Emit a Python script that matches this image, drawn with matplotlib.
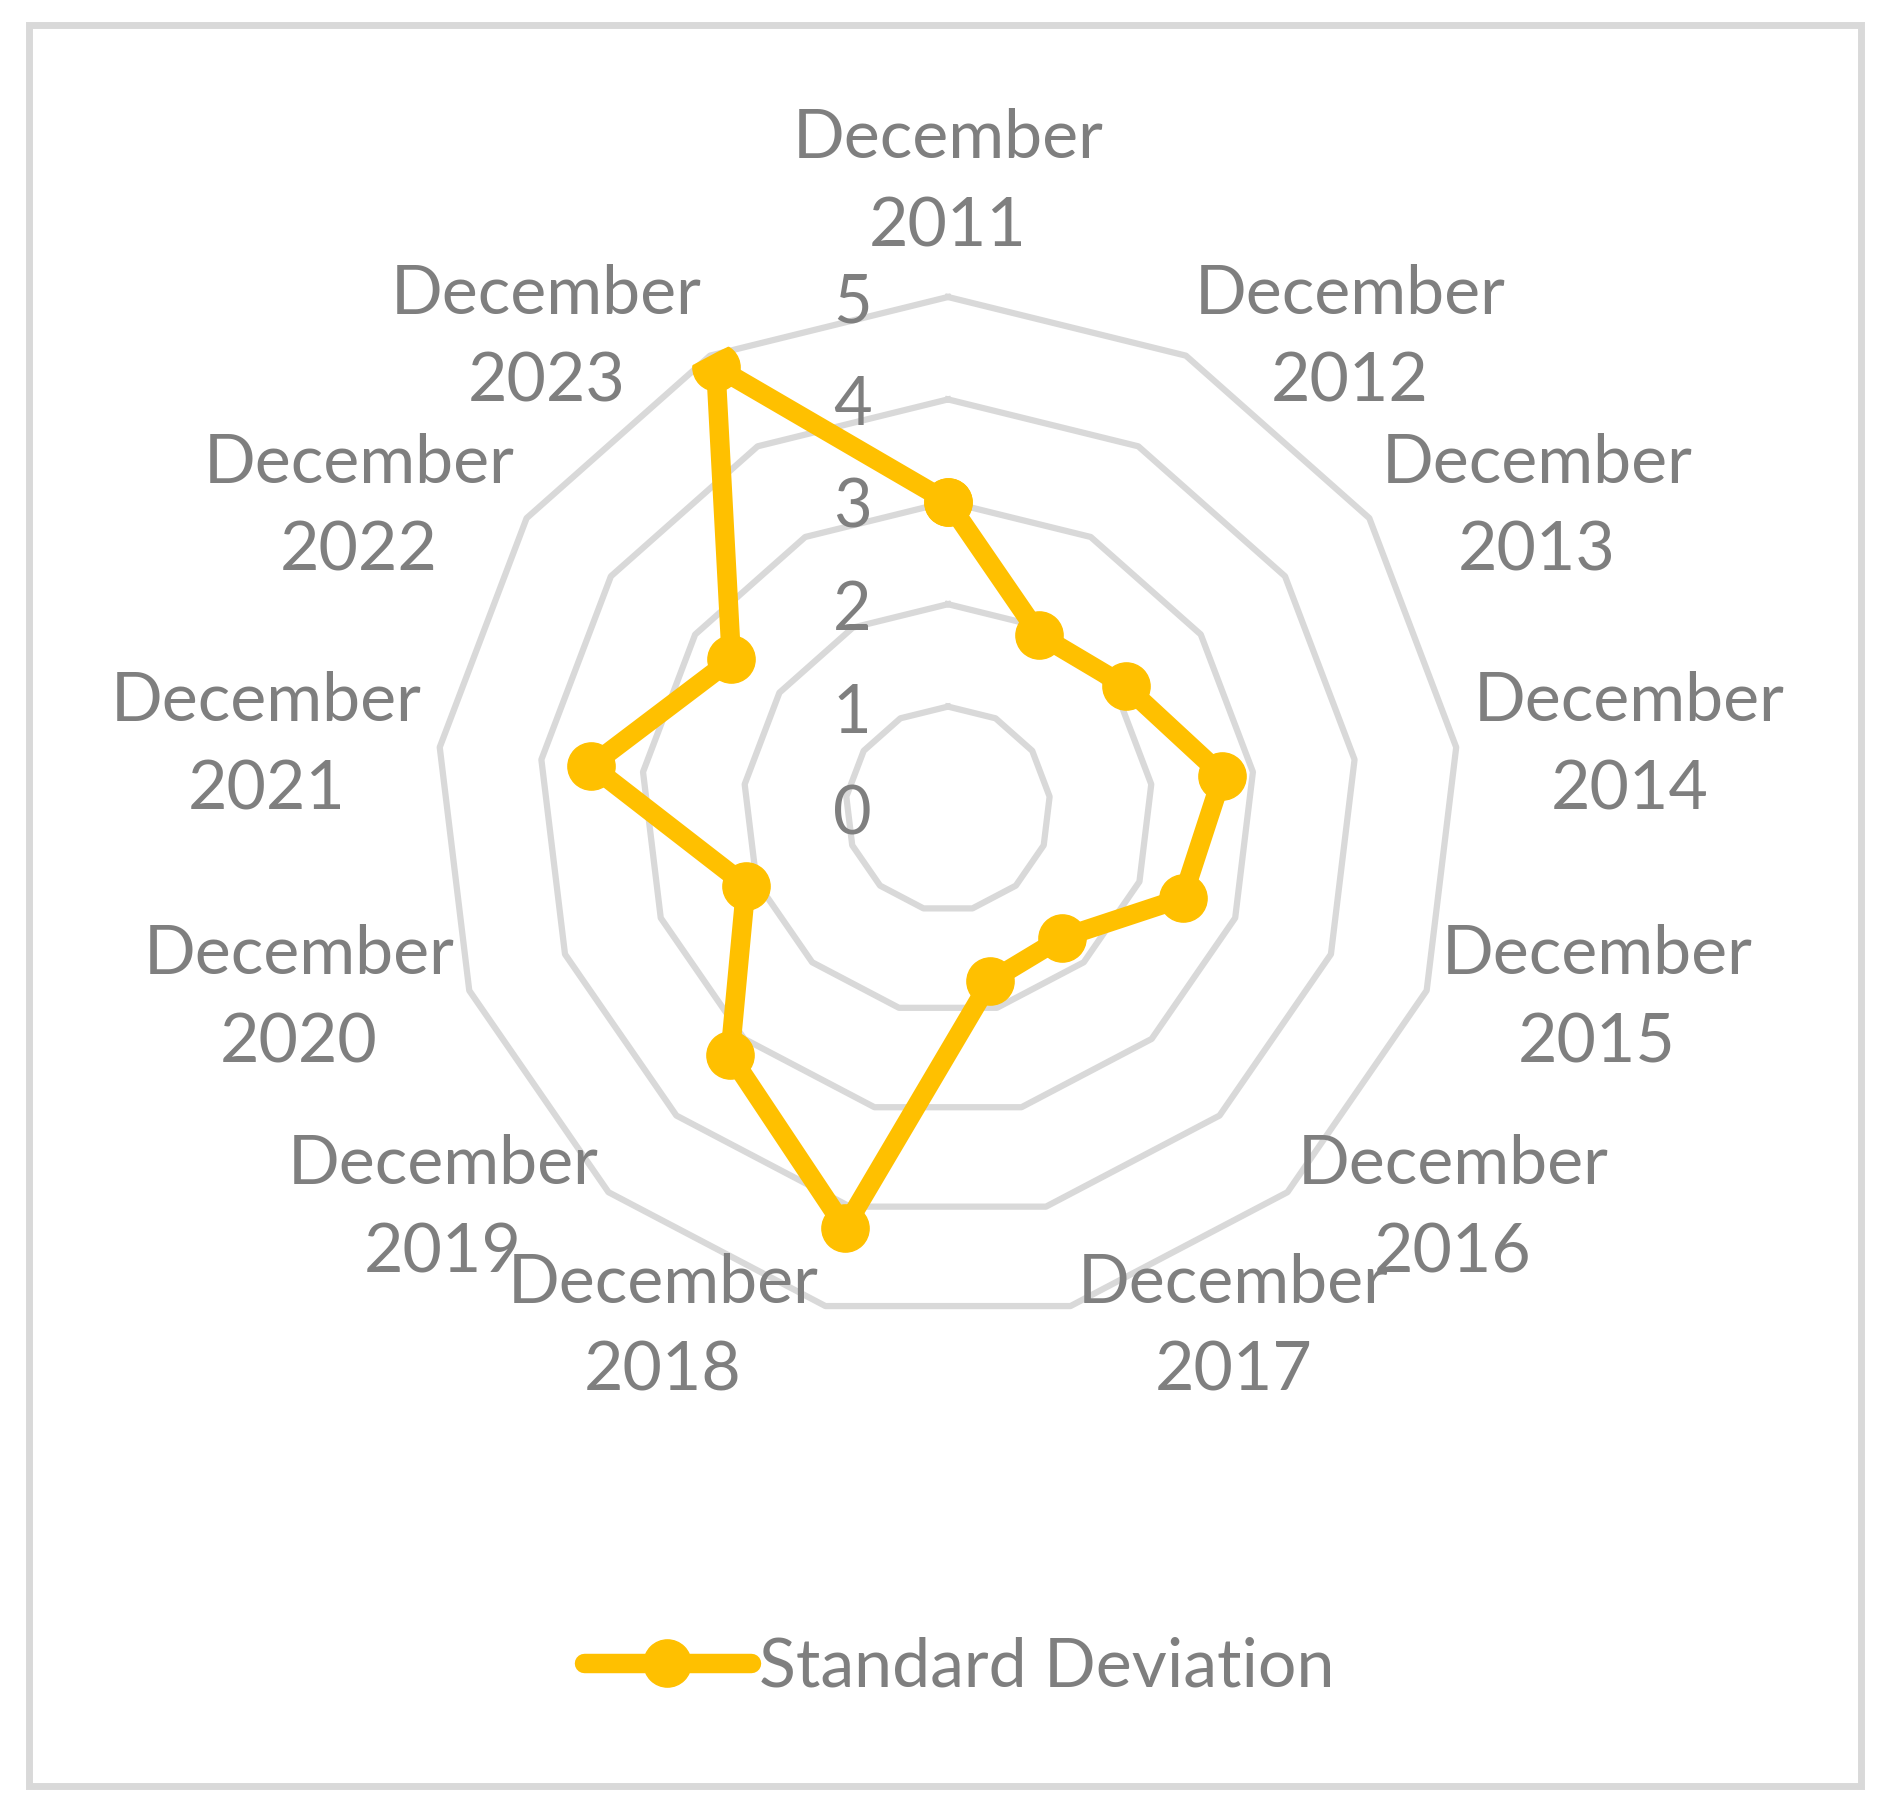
import matplotlib.pyplot as plt
import matplotlib.patches as patches
import numpy as np

# data
years = ["2011", "2012", "2013", "2014", "2015", "2016", "2017",
         "2018", "2019", "2020", "2021", "2022", "2023"]
categories = ["December\n" + y for y in years]
std_dev = [3.0, 1.92, 2.11, 2.70, 2.45, 1.68, 1.73, 4.21, 3.21, 2.11, 3.51, 2.57, 4.88]
levels = [1, 2, 3, 4, 5]

plt.rcParams['font.family'] = ['Lato', 'DejaVu Sans']
gray_txt = '#7F7F7F'
grid_col = '#D9D9D9'
gold = '#FFC000'

fig = plt.figure(figsize=(18.88, 18.11), dpi=100)

# outer border
fig.patches.append(patches.Rectangle((0.0154, 0.0138), 0.9703, 0.9724, transform=fig.transFigure,
                                     fill=False, edgecolor=grid_col, linewidth=5))

ax = fig.add_axes([0.5021 - 0.2712, 0.5533 - 0.2827, 0.5424, 0.5654], projection='polar')
ax.set_theta_zero_location('N')
ax.set_theta_direction(-1)
ax.set_ylim(0, 5)
ax.grid(False)
ax.spines['polar'].set_visible(False)
ax.set_xticks([])
ax.set_yticks([])
ax.patch.set_alpha(0)

n = len(categories)
theta = np.arange(n) * 2 * np.pi / n
theta_c = np.append(theta, theta[0])

# polygon gridlines
for lv in levels:
    ax.plot(theta_c, [lv] * (n + 1), color=grid_col, lw=4.5, zorder=1, clip_on=False)

# radial value labels
for lv in [0] + levels:
    ax.annotate(str(lv), xy=(0, lv), xytext=(-69, -5), textcoords='offset points',
                ha='center', va='center', fontsize=48, color=gray_txt)

# category labels
for t, lab in zip(theta, categories):
    s, c = np.sin(t), np.cos(t)
    if abs(s) < 0.05:
        ax.text(t, 5.38, lab, ha='center', va='bottom', fontsize=49, color=gray_txt,
                multialignment='center', linespacing=1.52)
    else:
        ha = 'left' if s > 0 else 'right'
        dx = 14 - 9 * abs(c)
        dy = -1 + 15 * c
        ax.annotate(lab, xy=(t, 5), xytext=(dx if s > 0 else -dx, dy), textcoords='offset points',
                    ha=ha, va='center', fontsize=49, color=gray_txt,
                    multialignment='center', linespacing=1.52)

# data series
vals = np.append(std_dev, std_dev[0])
line, = ax.plot(theta_c, vals, color=gold, lw=14, marker='o', markersize=34,
                markerfacecolor=gold, markeredgecolor=gold, zorder=3,
                label='Standard Deviation', solid_joinstyle='round', solid_capstyle='round')

leg = fig.legend(handles=[line], loc='center', bbox_to_anchor=(0.508, 0.079), frameon=False,
                 fontsize=49, handlelength=2.45, handletextpad=0.12, labelcolor=gray_txt)

fig.savefig('out.png', dpi=100)
